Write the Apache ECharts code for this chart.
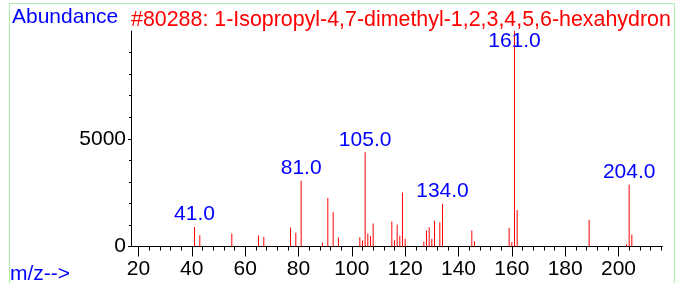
<!DOCTYPE html>
<html>
<head>
<meta charset="utf-8">
<script src="https://cdn.jsdelivr.net/npm/echarts@6/dist/echarts.min.js"></script>
<style>
  html, body { margin: 0; padding: 0; background: #fff; }
  #chart { width: 677px; height: 283px; }
</style>
</head>
<body>
<div id="chart"></div>
<script>
// mass spectrum peaks (m/z, abundance)
const massValues = [41, 43, 55, 65, 67, 77, 79, 81, 89, 91, 93, 95,
  103, 104, 105, 106, 107, 108, 115, 116, 117, 118, 119, 120,
  127, 128, 129, 130, 131, 133, 134, 145, 146, 159, 160, 161, 162,
  189, 203, 204, 205];
const abundances = [910, 525, 600, 505, 445, 880, 635, 3050, 185, 2250, 1590, 415,
  435, 280, 4370, 605, 485, 1070, 1160, 285, 1020, 495, 2505, 355,
  215, 740, 895, 355, 1190, 1130, 1970, 740, 245, 865, 200, 10000, 1690,
  1240, 110, 2870, 555];
const labeledPeaks = [41, 81, 105, 134, 161, 204];

const xTickLabels = [20, 40, 60, 80, 100, 120, 140, 160, 180, 200];
const xMinorTicks = [];
for (let v = 20; v <= 216; v += 4) xMinorTicks.push(v);
const yTickLabels = [0, 5000];
const yMinorTicks = [1000, 2000, 3000, 4000, 6000, 7000, 8000, 9000];

const titleText = '#80288: 1-Isopropyl-4,7-dimethyl-1,2,3,4,5,6-hexahydron';
const yName = 'Abundance';
const xName = 'm/z-->';

const FONT = '"Liberation Sans", Arial, sans-serif';
const FS = 21;
const RED = '#ff0000';
const BLUE = '#0000ff';
const GREEN = '#aaeeaa';

const chart = echarts.init(document.getElementById('chart'));

const peakData = massValues.map((m, i) => [m, abundances[i]]);
const labelData = labeledPeaks.map(m => {
  const item = { value: [m, abundances[massValues.indexOf(m)]] };
  // base peak label sits lower, across the line
  if (m === 161) item.label = { offset: [0, 23] };
  return item;
});

const X_MIN = 17.2, X_MAX = 216.5;

chart.setOption({
  animation: false,
  textStyle: { fontFamily: FONT },
  grid: { left: 131, right: 14.5, top: 31, bottom: 36.5 },
  xAxis: [
    {
      type: 'value', min: X_MIN, max: X_MAX, position: 'bottom',
      axisLine: { show: true, lineStyle: { color: '#000', width: 1 } },
      axisTick: { show: true, customValues: xTickLabels, length: 10, lineStyle: { color: '#000' } },
      axisLabel: { customValues: xTickLabels, fontSize: FS, color: '#000', margin: 12, fontFamily: FONT },
      splitLine: { show: false }
    },
    {
      type: 'value', min: X_MIN, max: X_MAX, position: 'bottom', gridIndex: 0,
      axisLine: { show: false },
      axisTick: { show: true, customValues: xMinorTicks, length: 4, lineStyle: { color: '#000' } },
      axisLabel: { show: false },
      splitLine: { show: false }
    }
  ],
  yAxis: [
    {
      type: 'value', min: 0, max: 10000, position: 'left',
      axisLine: { show: true, lineStyle: { color: '#000', width: 1 } },
      axisTick: { show: true, customValues: yTickLabels, length: 3, lineStyle: { color: '#000' } },
      axisLabel: {
        customValues: yTickLabels, fontSize: FS, color: '#000', margin: 5, fontFamily: FONT,
        formatter: v => String(v)
      },
      splitLine: { show: false }
    },
    {
      type: 'value', min: 0, max: 10000, position: 'left', gridIndex: 0,
      axisLine: { show: false },
      axisTick: { show: true, customValues: yMinorTicks, length: 2, lineStyle: { color: '#000' } },
      axisLabel: { show: false },
      splitLine: { show: false }
    }
  ],
  series: [
    {
      type: 'bar', xAxisIndex: 0, yAxisIndex: 0,
      data: peakData, barWidth: 1,
      itemStyle: { color: RED },
      silent: true
    },
    {
      type: 'scatter', xAxisIndex: 0, yAxisIndex: 0,
      data: labelData, symbolSize: 0,
      itemStyle: { opacity: 1 },
      label: {
        show: true, position: 'top', distance: 2,
        color: BLUE, fontSize: FS, fontFamily: FONT,
        formatter: p => p.value[0].toFixed(1)
      },
      silent: true
    }
  ],
  graphic: [
    { type: 'line', shape: { x1: 9.5, y1: 3.5, x2: 9.5, y2: 283 }, style: { stroke: GREEN, lineWidth: 1 }, silent: true },
    { type: 'line', shape: { x1: 9.5, y1: 3.5, x2: 674.5, y2: 3.5 }, style: { stroke: GREEN, lineWidth: 1 }, silent: true },
    { type: 'line', shape: { x1: 674.5, y1: 3.5, x2: 674.5, y2: 283 }, style: { stroke: GREEN, lineWidth: 1 }, silent: true },
    { type: 'text', x: 12, y: 17.5, style: { text: yName, fill: BLUE, font: FS + 'px ' + FONT, verticalAlign: 'middle' }, silent: true },
    { type: 'text', x: 131, y: 20.5, style: { text: titleText, fill: RED, font: '21.4px ' + FONT, verticalAlign: 'middle' }, silent: true },
    { type: 'text', x: 10, y: 274.5, style: { text: xName, fill: BLUE, font: FS + 'px ' + FONT, verticalAlign: 'middle' }, silent: true }
  ]
});
</script>
</body>
</html>
